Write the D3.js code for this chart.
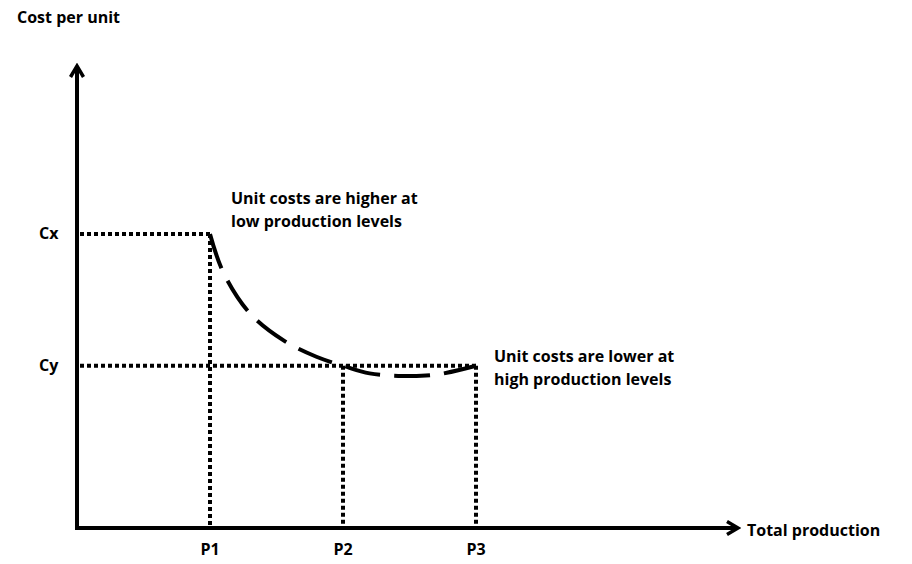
<!DOCTYPE html>
<html>
<head>
<meta charset="utf-8">
<script src="https://cdn.jsdelivr.net/npm/d3@7"></script>
<style>
body { margin: 0; background: #fff; }
text { font-family: "Open Sans", "Liberation Sans", sans-serif; font-weight: bold; font-size: 16px; fill: #000; }
</style>
</head>
<body>
<div></div>
<script>
const width = 912
const height = 564

// values
const productionLevels = ['P1', 'P2', 'P3']
const productionValues = [1, 2, 3]
const costLevels = ['Cx', 'Cy']
const costValues = [2.3, 1.27]
const curveX = [1, 1.1, 1.3, 1.55, 1.8, 2, 2.2, 2.45, 2.7, 3]
const curveY = [2.3, 2.0, 1.68, 1.47, 1.34, 1.27, 1.21, 1.19, 1.2, 1.27]
const notes = [
    ['Unit costs are higher at', 'low production levels'],
    ['Unit costs are lower at', 'high production levels']
]

let svg = d3.select('div').append('svg')
    .attr('width', width)
    .attr('height', height)

const x = d3.scaleLinear().domain([0, 3]).range([77, 476])
const y = d3.scaleLinear().domain([0, 3.6]).range([528, 68])

// arrow marker
svg.append('defs').append('marker')
    .attr('id', 'arrow')
    .attr('viewBox', '0 0 16 16')
    .attr('refX', 13).attr('refY', 8)
    .attr('markerWidth', 16).attr('markerHeight', 16)
    .attr('markerUnits', 'userSpaceOnUse')
    .attr('orient', 'auto')
    .append('path')
    .attr('d', 'M2,1.5 L13,8 L2,14.5')
    .attr('fill', 'none').attr('stroke', '#000').attr('stroke-width', 3.5)

// axes
svg.append('line')
    .attr('x1', x(0)).attr('y1', y(0)).attr('x2', x(0)).attr('y2', 66)
    .attr('stroke', '#000').attr('stroke-width', 4).attr('marker-end', 'url(#arrow)')
svg.append('line')
    .attr('x1', x(0) - 2).attr('y1', y(0)).attr('x2', 738).attr('y2', y(0))
    .attr('stroke', '#000').attr('stroke-width', 4).attr('marker-end', 'url(#arrow)')

svg.append('text').attr('x', 17).attr('y', 23).text('Cost per unit')
svg.append('text').attr('x', 747).attr('y', 536).text('Total production')

// dotted guides
const dots = { stroke: '#000', 'stroke-width': 4, 'stroke-dasharray': '4,3' }
function dotted(x1, y1, x2, y2) {
    let l = svg.append('line').attr('x1', x1).attr('y1', y1).attr('x2', x2).attr('y2', y2)
    for (const k in dots) l.attr(k, dots[k])
}
dotted(x(0) + 3, y(costValues[0]), x(1), y(costValues[0]))
dotted(x(0) + 3, y(costValues[1]), x(3), y(costValues[1]))
productionValues.forEach((p, i) => {
    let top = i == 0 ? y(costValues[0]) : y(costValues[1])
    dotted(x(p), top, x(p), y(0) - 2)
    svg.append('text').attr('x', x(p)).attr('y', 555).attr('text-anchor', 'middle').text(productionLevels[i])
})
costLevels.forEach((c, i) => {
    svg.append('text').attr('x', 39).attr('y', y(costValues[i]) + 5).text(c)
})

// cost curve
const line = d3.line().x(d => x(d[0])).y(d => y(d[1])).curve(d3.curveCatmullRom)
svg.append('path')
    .datum(curveX.map((v, i) => [v, curveY[i]]))
    .attr('d', line)
    .attr('fill', 'none').attr('stroke', '#000').attr('stroke-width', 4)
    .attr('stroke-dasharray', '36,14')

// notes
function note(lines, tx, ty) {
    lines.forEach((t, i) => {
        svg.append('text').attr('x', tx).attr('y', ty + i * 23).text(t)
    })
}
note(notes[0], 231, 204)
note(notes[1], 494, 362)
</script>
</body>
</html>
